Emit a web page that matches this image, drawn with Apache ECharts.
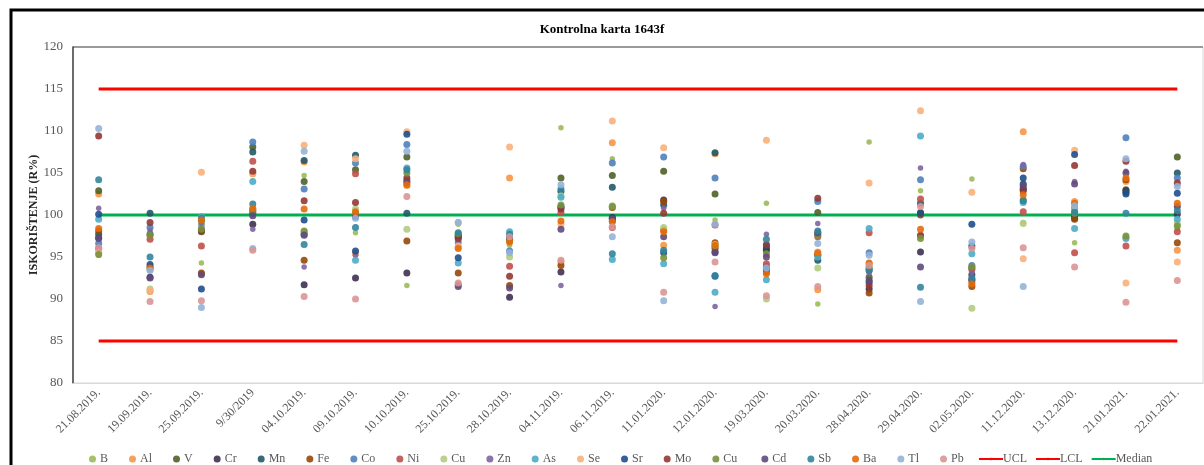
<!DOCTYPE html>
<html>
<head>
<meta charset="utf-8">
<title>Kontrolna karta 1643f</title>
<script src="https://cdn.jsdelivr.net/npm/echarts@6/dist/echarts.min.js"></script>
<style>
  html, body { margin: 0; padding: 0; background: #fff; }
  #chart { width: 1204px; height: 465px; }
</style>
</head>
<body>
<div id="chart"></div>
<script>
var dates = ['21.08.2019.', '19.09.2019.', '25.09.2019.', '9/30/2019', '04.10.2019.', '09.10.2019.',
  '10.10.2019.', '25.10.2019.', '28.10.2019.', '04.11.2019.', '06.11.2019.', '11.01.2020.',
  '12.01.2020.', '19.03.2020.', '20.03.2020.', '28.04.2020.', '29.04.2020.', '02.05.2020.',
  '11.12.2020.', '13.12.2020.', '21.01.2021.', '22.01.2021.']

var yTicks = [80, 85, 90, 95, 100, 105, 110, 115, 120]

// recovery (R%) per element, one value per date
var B   = [95.2, 91.0, 94.3, 100.5, 104.7, 97.9, 91.6, 98.9, 96.4, 110.4, 106.7, 98.3, 99.4, 101.4, 89.4, 108.7, 102.9, 104.3, 99.1, 96.7, 97.4, 98.4]
var Al  = [102.5, 90.9, 93.0, 104.9, 106.3, 95.4, 103.5, 96.2, 104.4, 94.4, 108.6, 96.4, 107.3, 93.4, 91.1, 94.2, 100.1, 92.0, 109.9, 101.6, 104.0, 95.8]
var V   = [102.9, 97.7, 98.0, 108.1, 104.0, 105.4, 106.9, 97.5, 97.0, 104.4, 104.7, 105.2, 102.5, 96.0, 100.3, 92.6, 100.3, 93.7, 103.2, 100.0, 103.0, 106.9]
var Cr  = [97.3, 92.6, 98.2, 98.9, 91.7, 92.5, 93.1, 97.3, 90.2, 93.2, 99.7, 101.8, 95.6, 95.8, 95.3, 91.2, 95.6, 92.9, 103.0, 99.6, 102.9, 100.1]
var Mn  = [97.7, 100.2, 99.2, 107.5, 106.5, 107.1, 100.2, 97.6, 97.3, 102.8, 103.3, 101.2, 107.4, 96.3, 94.6, 93.4, 101.4, 96.3, 103.7, 99.9, 102.7, 105.0]
var Fe  = [98.1, 93.8, 93.1, 100.6, 94.6, 99.9, 96.9, 93.1, 91.6, 94.0, 100.9, 101.6, 96.7, 93.2, 95.2, 90.7, 100.0, 91.5, 105.5, 99.5, 104.2, 96.7]
var Co  = [96.6, 98.5, 98.8, 108.7, 103.1, 106.2, 108.4, 96.8, 95.7, 101.0, 106.2, 106.9, 104.4, 93.9, 101.6, 95.5, 104.2, 94.0, 105.8, 100.8, 109.2, 104.4]
var Ni  = [96.0, 97.1, 96.3, 106.4, 97.8, 104.9, 104.1, 91.7, 93.9, 100.3, 98.5, 98.2, 98.8, 94.2, 97.4, 97.9, 101.9, 93.5, 100.4, 95.5, 96.3, 98.0]
var Cu  = [95.6, 91.2, 99.0, 100.4, 98.0, 100.7, 98.3, 99.1, 95.0, 102.3, 101.1, 98.5, 96.2, 90.0, 93.7, 93.8, 97.5, 88.9, 99.0, 100.6, 97.3, 99.0]
var Zn  = [100.8, 98.1, 99.0, 98.3, 93.8, 95.2, 103.8, 96.5, 97.6, 91.6, 99.6, 100.8, 89.1, 97.7, 99.0, 93.1, 105.6, 93.1, 106.0, 104.0, 105.2, 100.9]
var As  = [99.5, 93.5, 99.8, 104.0, 97.7, 94.6, 105.6, 94.3, 98.0, 102.1, 94.7, 94.2, 90.8, 92.3, 95.0, 98.4, 109.4, 95.4, 101.5, 98.4, 97.2, 99.5]
var Se  = [95.5, 91.0, 105.1, 105.0, 108.3, 106.7, 109.9, 96.3, 108.1, 98.9, 111.2, 108.0, 96.5, 108.9, 95.6, 103.8, 112.4, 102.7, 94.8, 107.7, 91.9, 94.4]
var Sr  = [100.1, 94.1, 91.2, 100.2, 99.4, 95.7, 109.6, 94.9, 97.1, 100.9, 99.6, 95.5, 92.7, 93.6, 97.8, 92.0, 100.2, 98.9, 104.4, 107.2, 102.5, 102.6]
var Mo  = [109.4, 99.1, 98.1, 105.2, 101.7, 101.5, 104.4, 97.2, 92.7, 100.7, 99.3, 100.2, 96.0, 96.5, 102.0, 91.6, 97.6, 92.3, 102.9, 105.9, 106.4, 103.8]
var Cu2 = [95.3, 97.6, 98.3, 100.5, 98.1, 100.2, 105.0, 97.8, 96.9, 101.2, 101.0, 94.9, 96.3, 95.4, 97.6, 93.7, 97.2, 93.8, 101.8, 100.2, 97.5, 98.7]
var Cd  = [97.2, 92.5, 92.9, 99.9, 97.6, 99.8, 103.9, 91.5, 91.3, 98.3, 99.5, 97.4, 95.5, 95.0, 97.9, 92.2, 93.8, 92.3, 103.5, 103.7, 105.0, 101.0]
var Sb  = [104.2, 95.0, 99.6, 101.3, 96.5, 98.5, 105.4, 97.9, 97.7, 103.1, 95.4, 95.8, 92.8, 97.1, 98.1, 93.5, 91.4, 92.5, 101.7, 100.4, 100.2, 100.5]
var Ba  = [98.4, 93.7, 99.4, 100.8, 100.7, 100.4, 103.6, 96.0, 96.8, 99.3, 99.2, 98.0, 96.4, 93.0, 95.5, 94.3, 98.3, 91.8, 102.4, 101.4, 104.4, 101.4]
var Tl  = [110.3, 93.4, 89.0, 96.0, 107.6, 99.6, 107.6, 99.1, 95.5, 103.6, 97.4, 89.8, 98.9, 93.7, 96.6, 95.2, 89.7, 96.8, 91.5, 101.1, 106.7, 103.4]
var Pb  = [96.1, 89.7, 89.8, 95.8, 90.3, 90.0, 102.2, 91.9, 97.4, 94.6, 98.6, 90.8, 94.4, 90.4, 91.5, 94.0, 101.0, 96.0, 96.1, 93.8, 89.6, 92.2]

// control limits
var UCL = 115
var LCL = 85
var MEDIAN = 100

// second "Cu" gets a trailing space so the legend keeps both entries
var elements = ['B', 'Al', 'V', 'Cr', 'Mn', 'Fe', 'Co', 'Ni', 'Cu', 'Zn', 'As', 'Se', 'Sr', 'Mo', 'Cu ', 'Cd', 'Sb', 'Ba', 'Tl', 'Pb']
var values = [B, Al, V, Cr, Mn, Fe, Co, Ni, Cu, Zn, As, Se, Sr, Mo, Cu2, Cd, Sb, Ba, Tl, Pb]
var colors = ['#9bbb59', '#f79646', '#4f6228', '#3f3151', '#215968', '#984807', '#4f81bd', '#c0504d', '#b3cc82',
  '#8064a2', '#4bacc6', '#fab07a', '#1f4e8c', '#953735', '#77933c', '#604a7b', '#31859c', '#e46c0a', '#95b3d7', '#d99694']
var smallDots = ['B', 'Zn']

var serif = '"Liberation Serif", "DejaVu Serif", serif'

var series = []
elements.forEach(function(name, i) {
  series.push({
    name: name,
    type: 'scatter',
    data: values[i],
    symbol: 'circle',
    symbolSize: smallDots.indexOf(name) >= 0 ? 5.5 : 7,
    itemStyle: { color: colors[i], opacity: 0.9 },
    z: 3
  })
})

function limitLine(name, value, color) {
  return {
    name: name,
    type: 'line',
    data: [[dates[0], value], [dates[dates.length - 1], value]],
    symbol: 'none',
    lineStyle: { color: color, width: 3 },
    itemStyle: { color: color },
    silent: true,
    z: 2
  }
}
series.push(limitLine('UCL', UCL, '#ff0000'))
series.push(limitLine('LCL', LCL, '#ff0000'))
series.push(limitLine('Median', MEDIAN, '#00b050'))

var option = {
  animation: false,
  backgroundColor: '#fff',
  title: {
    text: 'Kontrolna karta 1643f',
    left: 'center',
    top: 18,
    textStyle: { fontFamily: serif, fontSize: 13, fontWeight: 'bold', color: '#000' }
  },
  grid: { left: 73, top: 47, width: 1130, height: 336, show: true, borderColor: '#d9d9d9', borderWidth: 1 },
  legend: [{
    data: elements,
    icon: 'circle',
    itemWidth: 7,
    itemHeight: 7,
    itemGap: 21,
    left: 84,
    top: 448,
    textStyle: { fontFamily: serif, fontSize: 12, color: '#595959', padding: [0, 0, 0, -1] }
  }, {
    data: ['UCL', 'LCL', 'Median'],
    itemWidth: 24,
    itemHeight: 3,
    itemGap: 8,
    left: 973,
    top: 448,
    textStyle: { fontFamily: serif, fontSize: 12, color: '#595959', padding: [0, 0, 0, -5] }
  }],
  xAxis: {
    type: 'category',
    data: dates,
    boundaryGap: true,
    axisLine: { lineStyle: { color: '#d9d9d9' } },
    axisTick: { show: false },
    axisLabel: { rotate: 45, interval: 0, margin: 8, fontFamily: serif, fontSize: 12, color: '#595959' }
  },
  yAxis: {
    type: 'value',
    min: yTicks[0],
    max: yTicks[yTicks.length - 1],
    interval: 5,
    name: 'ISKORIŠTENJE (R%)',
    nameLocation: 'middle',
    nameGap: 33,
    nameMoveOverlap: false,
    nameTextStyle: { fontFamily: serif, fontSize: 12, fontWeight: 'bold', color: '#262626' },
    axisLine: { show: true, lineStyle: { color: '#404040', width: 1.5 } },
    axisTick: { show: false },
    splitLine: { show: false },
    axisLabel: { margin: 10, fontFamily: serif, fontSize: 13, color: '#595959' }
  },
  graphic: [{
    type: 'rect',
    silent: true,
    shape: { x: 11, y: 10, width: 1220, height: 480 },
    style: { fill: null, stroke: '#000', lineWidth: 3 }
  }, {
    type: 'line',
    silent: true,
    shape: { x1: 73, y1: 47, x2: 1203, y2: 47 },
    style: { stroke: '#7f7f7f', lineWidth: 1.5 }
  }],
  series: series
}

var myChart = echarts.init(document.getElementById('chart'), null, { renderer: 'canvas' })
myChart.setOption(option)
</script>
</body>
</html>
